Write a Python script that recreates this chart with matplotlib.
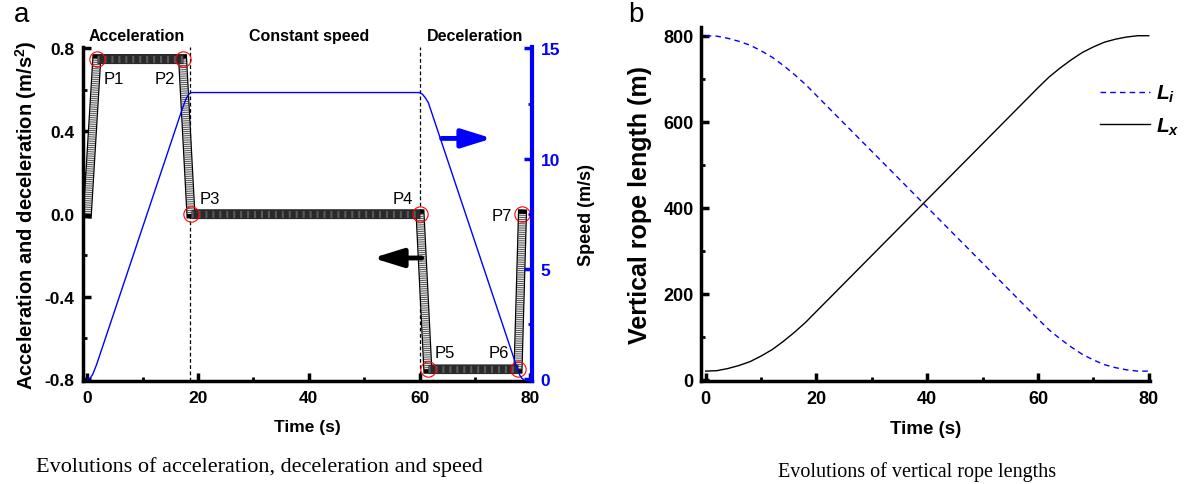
import numpy as np
import matplotlib
matplotlib.use("Agg")
import matplotlib.pyplot as plt
from matplotlib.ticker import MultipleLocator

plt.rcParams['font.family'] = ['Liberation Sans', 'DejaVu Sans']
plt.rcParams['axes.unicode_minus'] = False
plt.rcParams['mathtext.fontset'] = 'custom'
plt.rcParams['mathtext.it'] = 'Liberation Sans:bold:italic'
plt.rcParams['mathtext.rm'] = 'Liberation Sans:bold'

# panel a : acceleration profile (key points) and speed
t_acc = [0, 1.7, 17.2, 18.7, 60.1, 61.5, 77.8, 78.6]
acc = [0, 0.75, 0.75, 0, 0, -0.75, -0.75, 0]

t_speed = [0, 0.5, 1.0, 1.7, 17.2, 17.8, 18.3, 18.7, 60.0, 60.5, 61.0, 61.6, 77.6, 78.1, 78.5, 78.8]
speed = [0, 0.05, 0.25, 0.7, 12.3, 12.7, 12.92, 13.0, 13.0, 12.93, 12.78, 12.54, 0.55, 0.2, 0.05, 0]

p_names = ['P1', 'P2', 'P3', 'P4', 'P5', 'P6', 'P7']
p_t = [1.7, 17.2, 18.7, 60.1, 61.5, 77.8, 78.6]
p_acc = [0.75, 0.75, 0, 0, -0.75, -0.75, 0]
p_lab_t = [2.85, 15.85, 20.35, 58.8, 62.8, 76.2, 76.7]
p_lab_acc = [0.655, 0.655, 0.073, 0.073, -0.669, -0.669, -0.008]
p_lab_ha = ['left', 'right', 'left', 'right', 'left', 'right', 'right']

phase_names = ['Acceleration', 'Constant speed', 'Deceleration']
phase_t = [9.0, 40.0, 70.0]
phase_bounds = [18.55, 60.0]

# panel b : vertical rope lengths
t_rope = [0, 2, 4, 6, 8, 10, 12, 14, 16, 18, 20, 25, 30, 35, 40, 45, 50, 55, 60,
          62, 64, 66, 68, 70, 72, 74, 76, 78, 80]
L_x = [20, 21, 26, 33, 42, 55, 70, 89, 110, 133, 159, 224, 289, 354, 419, 484, 549, 614, 679,
       704, 725, 744, 761, 774, 785, 792, 797, 800, 800]
L_i = [800, 799, 794, 787, 778, 765, 750, 731, 710, 687, 661, 596, 531, 466, 401, 336, 271, 206, 141,
       116, 95, 76, 59, 46, 35, 28, 23, 20, 20]

fig = plt.figure(figsize=(11.97, 4.85), dpi=100)

# ---------------- panel a ----------------
ax = fig.add_axes([0.0693, 0.2130, 0.3755, 0.6877])

# band of square markers -> thick black stroke, striped ramps, dark flats
ax.plot(t_acc, acc, color='black', lw=6.6, solid_capstyle='projecting', solid_joinstyle='miter')
for i in range(len(t_acc) - 1):
    seg_t = t_acc[i:i + 2]
    seg_a = acc[i:i + 2]
    if seg_a[0] != seg_a[1]:
        ax.plot(seg_t, seg_a, color='#e4e4e4', lw=4.8, solid_capstyle='butt')
        ax.plot(seg_t, seg_a, color='#202020', lw=4.8, ls=(0, (0.1, 0.22)))
for i in range(len(t_acc) - 1):
    seg_t = t_acc[i:i + 2]
    seg_a = acc[i:i + 2]
    if seg_a[0] == seg_a[1]:
        ax.plot(seg_t, seg_a, color='#2a2a2a', lw=6.6, solid_capstyle='butt')
        ax.plot(seg_t, seg_a, color='#5a5a5a', lw=5.0, ls=(0, (0.3, 0.7)))

ax.plot(p_t, p_acc, linestyle='none', marker='o', markersize=11,
        markerfacecolor='none', markeredgecolor='red', markeredgewidth=0.8, zorder=5)
for name, x, y, ha in zip(p_names, p_lab_t, p_lab_acc, p_lab_ha):
    ax.text(x, y, name, ha=ha, va='center', fontsize=12, zorder=6)
for b in phase_bounds:
    ax.axvline(b, color='black', lw=0.9, ls=(0, (3, 2)), zorder=0.5)
for name, x in zip(phase_names, phase_t):
    ax.text(x, 0.86, name, ha='center', va='center', fontsize=11.5, fontweight='bold')

ax.annotate('', xy=(51.6, -0.213), xytext=(60.4, -0.213),
            arrowprops=dict(arrowstyle='-|>,head_length=0.9,head_width=0.28',
                            lw=3.5, color='black', mutation_scale=20, shrinkA=0, shrinkB=0))
ax.annotate('', xy=(73.1, 0.365), xytext=(64.0, 0.365),
            arrowprops=dict(arrowstyle='-|>,head_length=0.9,head_width=0.28',
                            lw=3.5, color='blue', mutation_scale=20, shrinkA=0, shrinkB=0))

ax.set_xlim(-0.8, 80.4)
ax.set_ylim(-0.806, 0.806)
ax.xaxis.set_major_locator(MultipleLocator(20))
ax.xaxis.set_minor_locator(MultipleLocator(10))
ax.yaxis.set_major_locator(MultipleLocator(0.4))
ax.yaxis.set_minor_locator(MultipleLocator(0.2))
ax.yaxis.set_major_formatter(plt.FormatStrFormatter('%.1f'))
ax.tick_params(which='major', direction='in', length=6, width=2.5, labelsize=12.5)
ax.tick_params(axis='y', which='major', pad=6)
ax.tick_params(axis='x', which='major', pad=7)
ax.tick_params(which='minor', direction='in', length=3, width=2)
for lab in ax.get_xticklabels() + ax.get_yticklabels():
    lab.set_fontweight('bold')
ax.spines['top'].set_visible(False)
ax.spines['right'].set_visible(False)
ax.spines['left'].set_linewidth(2.5)
ax.spines['bottom'].set_linewidth(2.5)
ax.set_xlabel('Time (s)', fontsize=12.5, fontweight='bold', labelpad=10)
ax.set_ylabel('Acceleration and deceleration (m/s$^2$)', fontsize=14.5, fontweight='bold', labelpad=4)

ax2 = ax.twinx()
ax2.plot(t_speed, speed, color='blue', lw=1)
ax2.set_ylim(-0.056, 15.056)
ax2.yaxis.set_major_locator(MultipleLocator(5))
ax2.yaxis.set_minor_locator(MultipleLocator(2.5))
ax2.tick_params(which='major', direction='in', length=6, width=2.5, color='blue',
                labelcolor='blue', labelsize=12.5, pad=6)
ax2.tick_params(which='minor', direction='in', length=3, width=2, color='blue')
for lab in ax2.get_yticklabels():
    lab.set_fontweight('bold')
for s in ['top', 'left', 'bottom']:
    ax2.spines[s].set_visible(False)
ax2.spines['right'].set_color('blue')
ax2.spines['right'].set_linewidth(3)
ax2.set_ylabel('Speed (m/s)', fontsize=13, fontweight='bold', labelpad=13)

fig.text(259 / 1197, 1 - 467 / 485, 'Evolutions of acceleration, deceleration and speed',
         ha='center', va='center', fontsize=16, family=['Liberation Serif', 'DejaVu Serif'])
fig.text(22 / 1197, 1 - 15 / 485, 'a', ha='center', va='center', fontsize=20)

# ---------------- panel b ----------------
bx = fig.add_axes([0.5854, 0.2130, 0.375, 0.729])
bx.plot(t_rope, L_i, color='blue', lw=1, ls=(0, (4, 3)), label='$L_i$')
bx.plot(t_rope, L_x, color='black', lw=1, label='$L_x$')
bx.set_xlim(-0.9, 80.15)
bx.set_ylim(-2.3, 820)
bx.xaxis.set_major_locator(MultipleLocator(20))
bx.xaxis.set_minor_locator(MultipleLocator(10))
bx.yaxis.set_major_locator(MultipleLocator(200))
bx.yaxis.set_minor_locator(MultipleLocator(100))
bx.tick_params(which='major', direction='in', length=6, width=2.5, labelsize=13)
bx.tick_params(axis='y', which='major', pad=5)
bx.tick_params(axis='x', which='major', pad=7)
bx.tick_params(which='minor', direction='in', length=3, width=2)
for lab in bx.get_xticklabels() + bx.get_yticklabels():
    lab.set_fontweight('bold')
bx.spines['top'].set_visible(False)
bx.spines['right'].set_visible(False)
bx.spines['left'].set_linewidth(2.5)
bx.spines['bottom'].set_linewidth(2.5)
bx.set_xlabel('Time (s)', fontsize=13.5, fontweight='bold', labelpad=9)
bx.set_ylabel('Vertical rope length (m)', fontsize=18, fontweight='bold', labelpad=8)
bx.legend(loc='upper left', bbox_to_anchor=(1100 / 1197, 1 - 84 / 485),
          bbox_transform=fig.transFigure, frameon=False, fontsize=15,
          handlelength=2.4, handletextpad=0.3, labelspacing=0.55, borderpad=0, borderaxespad=0)

fig.text(917 / 1197, 1 - 472 / 485, 'Evolutions of vertical rope lengths',
         ha='center', va='center', fontsize=14.5, family=['Liberation Serif', 'DejaVu Serif'])
fig.text(636 / 1197, 1 - 15 / 485, 'b', ha='center', va='center', fontsize=20)

fig.savefig('out.png', dpi=100)
